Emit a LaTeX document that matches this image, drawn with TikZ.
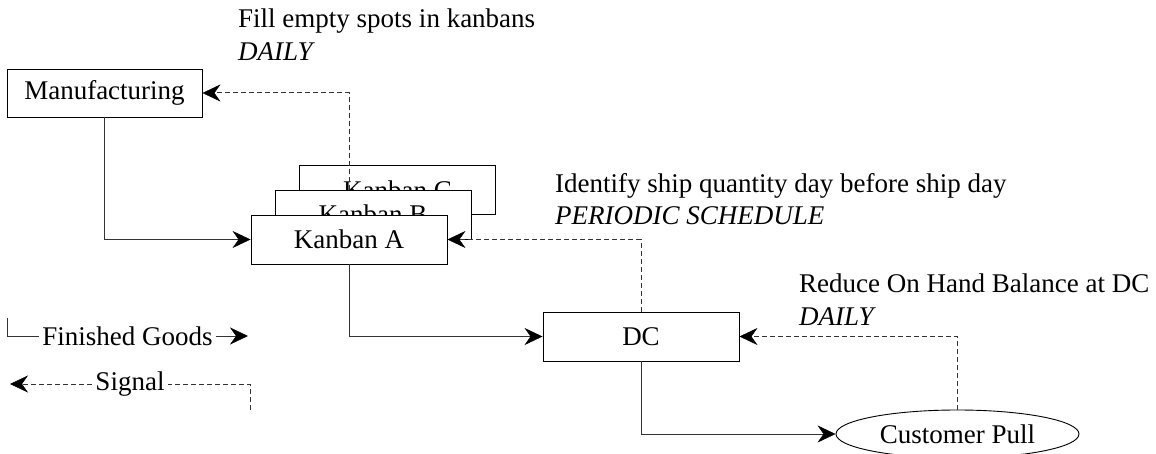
\documentclass[tikz,border=0pt]{standalone}
\usepackage{fontspec}
\setmainfont{Liberation Serif}
\usetikzlibrary{arrows.meta,shapes.geometric}

\tikzset{
  tipshape/.tip={Stealth[length=18pt,width=17pt,inset=6pt,fill=black,color=black,line width=0.5pt]}
}

\begin{document}
\begin{tikzpicture}[x=1pt,y=-1pt,
  txt/.style={font=\fontsize{27}{32}\selectfont},
  box/.style={txt, draw, fill=white, line width=0.9pt, minimum width=196pt,
    minimum height=49pt, inner sep=0pt},
  flow/.style={draw=black!80, line width=1pt, -tipshape},
  signal/.style={flow, dash pattern=on 5pt off 3pt},
  note/.style={txt, anchor=base west, inner sep=0pt},
  tag/.style={txt, fill=white, inner sep=3.5pt},
]
\useasboundingbox (0,0) rectangle (1156,454);

% main blocks
\node[box, minimum width=195pt, minimum height=48pt] (mfg) at (104.5,93) {Manufacturing};

% stacked kanban cards: C at the back, the signal line starts inside it
\node[box] (kC) at (397.5,190) {Kanban C};
\coordinate (kcsig) at (349,190);
\draw[signal] (kcsig) |- (mfg.east);
\node[box] (kB) at (373,214.5) {Kanban B};
\node[box] (kA) at (349,239.5) {Kanban A};

\node[box] (dc) at (641,336.5) {DC};
\node[txt, draw, line width=0.9pt, ellipse, minimum width=243pt, minimum height=48pt,
  inner sep=0pt] (cust) at (957.5,434) {Customer Pull};

% goods flow
\draw[flow] (mfg.south) |- (kA.west);
\draw[flow] (kA.south) |- (dc.west);
\draw[flow] (dc.south) |- (cust.west);

% signals
\draw[signal] (dc.north) |- (kA.east);
\draw[signal] (cust.north) |- (dc.east);

% annotations
\node[note] (n1) at (238,28) {Fill empty spots in kanbans};
\node[note] (n1b) at (238,61) {\itshape DAILY};
\node[note] (n2) at (555,193) {Identify ship quantity day before ship day};
\node[note] (n2b) at (555,225) {\itshape PERIODIC SCHEDULE};
\node[note] (n3) at (799,293) {Reduce On Hand Balance at DC};
\node[note] (n3b) at (799,325) {\itshape DAILY};

% legend
\coordinate (fgA) at (7,318);
\coordinate (fgB) at (248,336);
\draw[flow] (fgA) |- node[tag, pos=0.75] (fgl) {Finished Goods} (fgB);
\coordinate (sgA) at (250,410);
\coordinate (sgB) at (10,384);
\draw[signal] (sgA) |- node[tag, pos=0.75] (sgl) {Signal} (sgB);
\end{tikzpicture}
\end{document}
